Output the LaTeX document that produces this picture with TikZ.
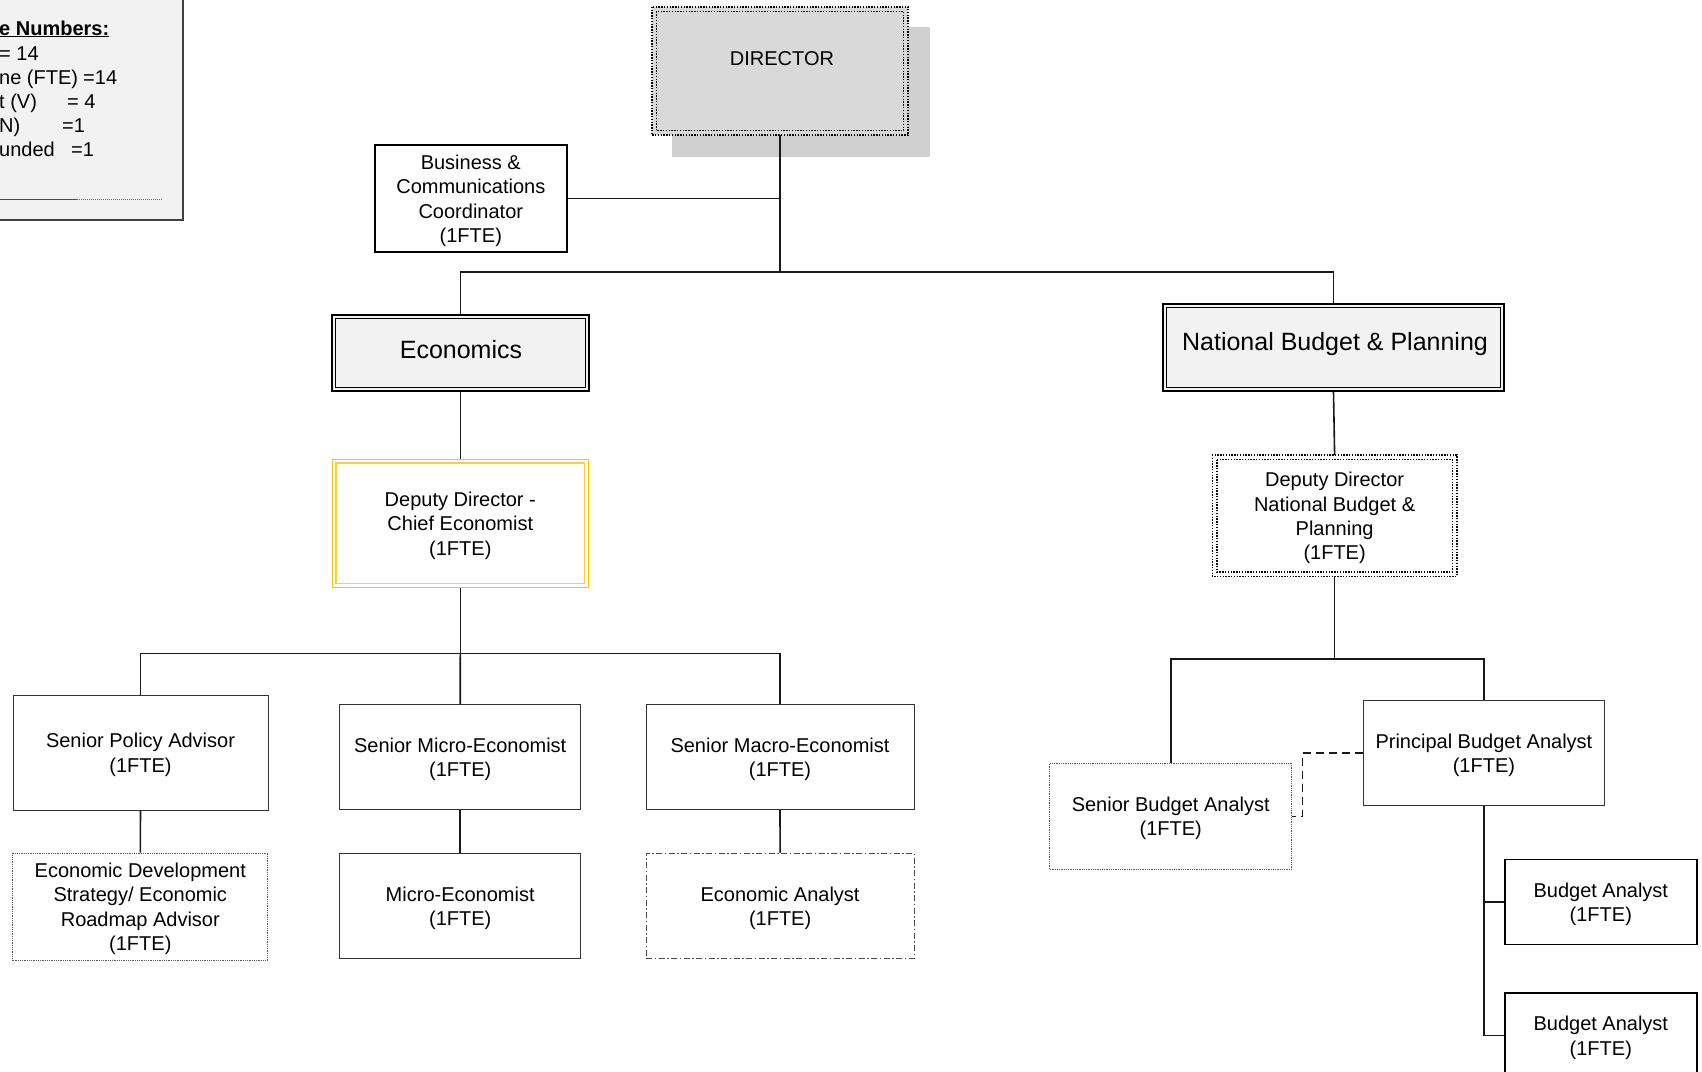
\documentclass[tikz,border=0pt]{standalone}
\usepackage{fontspec}
\setmainfont{Liberation Sans}
\definecolor{goldline}{RGB}{255,192,0}
\definecolor{goldinner}{RGB}{255,206,60}
\begin{document}
\begin{tikzpicture}[x=1pt,y=-1pt,
  every node/.style={font=\fontsize{20}{24.3}\selectfont, align=center, inner sep=0pt, text=black},
  sz/.style 2 args={minimum width=#1pt, minimum height=#2pt},
  txt/.style={label={[yshift=-2.3pt]center:{#1}}},
  conn/.style={line width=1.6pt, draw=black!90},
  post/.style={draw=black!80, line width=1pt, fill=white},
  dotbox/.style={draw=black!65, line width=0.9pt, dash pattern=on 0.9pt off 0.9pt, fill=white},
  dashdotbox/.style={draw=black!70, line width=0.9pt, dash pattern=on 6pt off 2.5pt on 1.5pt off 2.5pt, fill=white},
  dotline/.style={draw=black, line width=1.5pt, dash pattern=on 1.4pt off 1.4pt},
  unit/.style={draw=black, line width=1.8pt, fill=black!5, font=\fontsize{25}{29}\selectfont},
  gold/.style={draw=goldline, line width=1.6pt},
  legtext/.style={anchor=base west}
]
\useasboundingbox (0,0) rectangle (1702,1071);
\clip (0,0) rectangle (1702,1071);

% ---- legend panel (partly outside the page) ----
\node[draw=black!75, line width=1.6pt, fill=black!5, sz={213}{250}] (legend) at (76.5,95) {};
\node[legtext] (lg0) at (-1,35) {\underline{\textbf{e Numbers:}}};
\node[legtext] (lg1) at (-1,60) {= 14};
\node[legtext] (lg2) at (-1,84) {ne (FTE)};
\node[legtext] (lg2v) at (83,84) {=14};
\node[legtext] (lg3) at (-1,108) {t (V)};
\node[legtext] (lg3v) at (67,108) {= 4};
\node[legtext] (lg4) at (-1,132) {N)};
\node[legtext] (lg4v) at (62,132) {=1};
\node[legtext] (lg5) at (-1,156) {unded};
\node[legtext] (lg5v) at (71,156) {=1};
\coordinate (lgA) at (0,199);
\coordinate (lgB) at (77,199);
\coordinate (lgC) at (162,199);
\draw[black!70, line width=1pt] (lgA) -- (lgB);
\draw[black!60, line width=0.9pt, dash pattern=on 1pt off 1pt] (lgB) -- (lgC);

% ---- director ----
\node[fill=black!19, sz={258}{130}] (dirshadow) at (801,92) {};
\node[fill=black!15, sz={256}{128}] (dir) at (780,71) {};
\draw[dotline] (dir.north west) rectangle (dir.south east);
\draw[dotline] ([shift={(4.5,4.5)}]dir.north west) rectangle ([shift={(-4.5,-4.5)}]dir.south east);
\node (dirtext) at (782,59) {DIRECTOR};

\node[post, draw=black, line width=1.5pt, sz={192}{107},
  txt={Business \&\\Communications\\Coordinator\\(1FTE)}] (biz) at (470.8,198.4) {};

% ---- units ----
\node[unit, sz={257}{76}] (econ) at (460.3,352.8) {};
\draw[black, line width=0.9pt] ([shift={(4.5,4.5)}]econ.north west) rectangle ([shift={(-4.5,-4.5)}]econ.south east);
\node[font=\fontsize{25}{29}\selectfont] (econtext) at (461,350) {Economics};

\node[unit, sz={341}{87}] (nbp) at (1333.5,347.5) {};
\draw[black, line width=0.9pt] ([shift={(4.5,4.5)}]nbp.north west) rectangle ([shift={(-4.5,-4.5)}]nbp.south east);
\node[font=\fontsize{25}{29}\selectfont] (nbptext) at (1335,344) {National Budget \& Planning};

% ---- deputies ----
\node[fill=white, gold, sz={256}{128},
  txt={Deputy Director -\\Chief Economist\\(1FTE)}] (dce) at (460.3,523.3) {};
\draw[draw=goldinner, line width=1.6pt] ([shift={(4.5,4.5)}]dce.north west) rectangle ([shift={(-4.5,-4.5)}]dce.south east);

\node[fill=white, sz={244}{121},
  txt={Deputy Director\\National Budget \&\\Planning\\(1FTE)}] (dnb) at (1334.6,515.7) {};
\draw[dotline] (dnb.north west) rectangle (dnb.south east);
\draw[dotline] ([shift={(4.5,4.5)}]dnb.north west) rectangle ([shift={(-4.5,-4.5)}]dnb.south east);

% ---- economics staff ----
\node[post, sz={255}{115}, txt={Senior Policy Advisor\\(1FTE)}] (spa) at (140.5,752.5) {};
\node[dotbox, sz={255}{107}, txt={Economic Development\\Strategy/ Economic\\Roadmap Advisor\\(1FTE)}] (eds) at (140.3,906.5) {};
\node[post, sz={241}{105}, txt={Senior Micro-Economist\\(1FTE)}] (smi) at (460.2,757.2) {};
\node[post, sz={241}{105}, txt={Micro-Economist\\(1FTE)}] (mi) at (460.2,905.9) {};
\node[post, sz={268}{105}, txt={Senior Macro-Economist\\(1FTE)}] (sma) at (780,757.2) {};
\node[dashdotbox, sz={268}{105}, txt={Economic Analyst\\(1FTE)}] (ea) at (780.1,905.8) {};

% ---- budget staff ----
\node[dotbox, sz={242}{106}, txt={Senior Budget Analyst\\(1FTE)}] (sba) at (1170.7,816.3) {};
\node[post, sz={241}{105}, txt={Principal Budget Analyst\\(1FTE)}] (pba) at (1483.9,752.8) {};
\node[post, draw=black, line width=1.8pt, sz={192}{85}, txt={Budget Analyst\\(1FTE)}] (ba1) at (1600.8,902) {};
\node[post, draw=black, line width=1.8pt, sz={192}{85}, txt={Budget Analyst\\(1FTE)}] (ba2) at (1600.8,1035.5) {};

% ---- reporting lines ----
\coordinate (j1) at (780,272);
\coordinate (j2) at (460.3,653.5);
\coordinate (j3) at (1334.6,659);
\coordinate (jd) at (1302.6,816.3);

\draw[conn] (dir.south) -- (j1);
\draw[conn] (biz.east) -- (biz.east -| dir.south);
\draw[conn] (econ.north) |- (j1) -| (nbp.north);
\draw[conn] (econ.south) -- (dce.north);
\draw[conn] (dce.south) -- (j2);
\draw[conn] (spa.north) |- (j2) -| (sma.north);
\draw[conn] (j2) -- (smi.north);
\draw[conn] (spa.south) -- (eds.north);
\draw[conn] (smi.south) -- (mi.north);
\draw[conn] (sma.south) -- (ea.north);
\draw[conn] (nbp.south) -- (dnb.north);
\draw[conn] (dnb.south) -- (j3);
\draw[conn] (sba.north) |- (j3) -| (pba.north);
\draw[conn, dash pattern=on 8pt off 5pt] (pba.west) -| (jd) -- (sba.east);
\draw[conn] (pba.south) |- (ba1.west);
\draw[conn] (pba.south) |- (ba2.west);
\end{tikzpicture}
\end{document}
